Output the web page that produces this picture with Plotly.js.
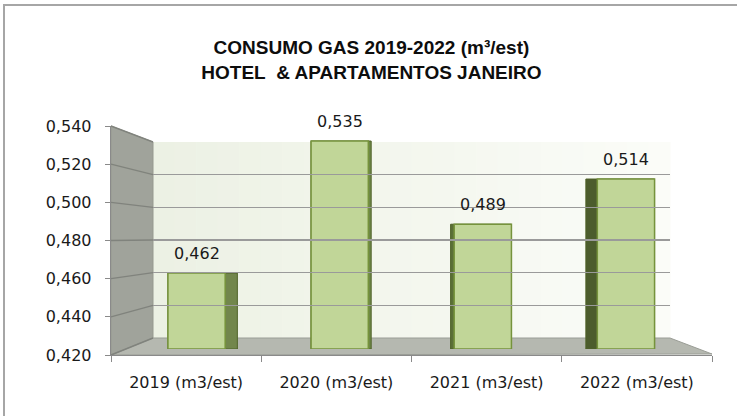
<!DOCTYPE html>
<html>
<head>
<meta charset="utf-8">
<script src="https://cdn.plot.ly/plotly-3.0.1.min.js"></script>
<style>html,body{margin:0;padding:0;background:#fff;}#chart{width:737px;height:416px;}</style>
</head>
<body>
<div id="chart"></div>
<script>
// ---- data ----
const categories = ["2019 (m3/est)", "2020 (m3/est)", "2021 (m3/est)", "2022 (m3/est)"];
const values = [0.462, 0.535, 0.489, 0.514];
const yTicks = [0.42, 0.44, 0.46, 0.48, 0.50, 0.52, 0.54];
const titleLines = ["CONSUMO GAS 2019-2022 (m³/est)", "HOTEL\u00a0 & APARTAMENTOS JANEIRO"];

// ---- layout helpers (pixel -> paper) ----
const W = 737, H = 416;
const px = x => x / W;
const py = y => 1 - y / H;
const yMin = 0.42, yMax = 0.54;
const heights = values.map(v => v - yMin); // bar length above the axis floor

// front axis (labels) and back wall geometry
const front = {x: 111, top: 126, bottom: 355};
const back = {x0: 153, x1: 670, top: 142, bottom: 338};
const fmt = v => v.toFixed(3).replace('.', ',');

const sideColors = ['#72864c', '#6f8748', '#5c7038', '#4c5c2d'];
const sideOffset = [-0.2, -0.2, -0.225, -0.28];
const sideWidth = [0.485, 0.42, 0.425, 0.48];

const traces = [
  { // side faces (3D look)
    type: 'bar', x: categories, y: heights, base: yMin,
    xaxis: 'x', yaxis: 'y',
    offset: sideOffset, width: sideWidth,
    marker: {color: sideColors, line: {color: '#4f6228', width: 1}},
    hoverinfo: 'skip', showlegend: false
  },
  { // front faces
    type: 'bar', x: categories, y: heights, base: yMin,
    xaxis: 'x', yaxis: 'y',
    offset: -0.2, width: 0.4,
    marker: {color: '#c1d698', line: {color: '#76933c', width: 1.5}},
    hoverinfo: 'skip', showlegend: false
  },
  { // carrier for front category / value axes
    type: 'scatter', mode: 'markers', x: categories, y: values,
    xaxis: 'x2', yaxis: 'y2', marker: {opacity: 0}, hoverinfo: 'skip', showlegend: false
  },
  { // carrier for back-wall gridlines
    type: 'scatter', mode: 'markers', x: categories, y: values,
    xaxis: 'x3', yaxis: 'y3', marker: {opacity: 0}, hoverinfo: 'skip', showlegend: false
  }
];

const shapes = [
  // outer chart border
  {type: 'rect', xref: 'paper', yref: 'paper', x0: px(4), x1: px(760), y0: py(5), y1: py(440),
   line: {color: '#a6a6a6', width: 2}, fillcolor: 'rgba(0,0,0,0)', layer: 'below'}
];
// back wall: soft horizontal gradient from pale green to near-white
const nStrips = 24;
const c0 = [236, 241, 228], c1 = [251, 252, 248];
for (let i = 0; i < nStrips; i++) {
  const t = i / (nStrips - 1);
  const c = c0.map((a, k) => Math.round(a + (c1[k] - a) * t));
  const xa = back.x0 + (back.x1 - back.x0) * i / nStrips;
  const xb = back.x0 + (back.x1 - back.x0) * (i + 1) / nStrips + 0.6;
  shapes.push({type: 'rect', xref: 'paper', yref: 'paper', x0: px(xa), x1: px(xb),
    y0: py(back.bottom), y1: py(back.top), line: {width: 0},
    fillcolor: `rgb(${c[0]},${c[1]},${c[2]})`, layer: 'below'});
}
// side wall
shapes.push({type: 'path', xref: 'paper', yref: 'paper',
  path: `M ${px(front.x)} ${py(front.top)} L ${px(back.x0)} ${py(back.top)} L ${px(back.x0)} ${py(back.bottom)} L ${px(front.x)} ${py(front.bottom)} Z`,
  line: {color: '#96998f', width: 1}, fillcolor: '#a0a39b', layer: 'below'});
// floor
shapes.push({type: 'path', xref: 'paper', yref: 'paper',
  path: `M ${px(front.x)} ${py(front.bottom)} L ${px(back.x0)} ${py(back.bottom)} L ${px(back.x1)} ${py(back.bottom)} L ${px(712)} ${py(354)} Z`,
  line: {color: '#9a9d96', width: 1}, fillcolor: '#b5b8b0', layer: 'below'});
// side-wall continuation of the gridlines
yTicks.forEach(v => {
  const t = (v - yMin) / (yMax - yMin);
  const fy = front.bottom - t * (front.bottom - front.top);
  const by = back.bottom - t * (back.bottom - back.top);
  shapes.push({type: 'line', xref: 'paper', yref: 'paper',
    x0: px(front.x), y0: py(fy), x1: px(back.x0), y1: py(by),
    line: {color: '#80837d', width: 1.4}, layer: 'below'});
});

const annotations = categories.map((c, i) => ({
  xref: 'x', yref: 'y', x: c, y: values[i], text: fmt(values[i]),
  showarrow: false, yanchor: 'middle', yshift: 20,
  font: {family: 'DejaVu Sans', size: 16, color: '#1a1a1a'}
}));

const layout = {
  width: W, height: H,
  margin: {l: 0, r: 0, t: 0, b: 0},
  paper_bgcolor: '#ffffff', plot_bgcolor: 'rgba(0,0,0,0)',
  separators: ',.',
  barmode: 'overlay',
  showlegend: false,
  font: {family: 'DejaVu Sans', size: 16, color: '#1a1a1a'},
  title: {
    text: '<b>' + titleLines.join('<br>') + '</b>',
    x: 0.504, xanchor: 'center', y: py(54), yanchor: 'top',
    font: {family: 'Liberation Sans', size: 19, color: '#0d0d0d'}
  },
  xaxis: {domain: [px(125), px(697.5)], anchor: 'y', visible: false,
          type: 'category', range: [-0.5, 3.5], fixedrange: true},
  yaxis: {domain: [py(349), py(132)], anchor: 'x', visible: false,
          range: [yMin, yMax], fixedrange: true},
  xaxis2: {domain: [px(front.x), px(712)], anchor: 'y2', type: 'category',
           range: [-0.5, 3.5], tickson: 'boundaries', ticks: 'outside', ticklen: 6,
           tickcolor: '#8a8a8a', showline: true, linecolor: '#8a8a8a', linewidth: 1.3,
           showgrid: false, zeroline: false, ticklabelstandoff: 12,
           tickfont: {family: 'DejaVu Sans', size: 16, color: '#1a1a1a'}},
  yaxis2: {domain: [py(front.bottom), py(front.top)], anchor: 'x2', range: [yMin, yMax],
           tickvals: yTicks, ticktext: yTicks.map(fmt), ticks: 'outside', ticklen: 5,
           tickcolor: '#8a8a8a', showline: true, linecolor: '#8a8a8a', linewidth: 1.3,
           showgrid: false, zeroline: false, ticklabelstandoff: 10,
           tickfont: {family: 'DejaVu Sans', size: 16, color: '#1a1a1a'}},
  xaxis3: {domain: [px(back.x0), px(back.x1)], anchor: 'y3', type: 'category',
           range: [-0.5, 3.5], showticklabels: false, showgrid: false, zeroline: false,
           showline: false, ticks: ''},
  yaxis3: {domain: [py(back.bottom), py(back.top)], anchor: 'x3', range: [yMin, yMax],
           tickvals: yTicks, showticklabels: false, showgrid: true, gridcolor: '#9a9a9a',
           gridwidth: 1.5, zeroline: false, showline: false, ticks: ''},
  shapes: shapes,
  annotations: annotations
};

Plotly.newPlot('chart', traces, layout, {staticPlot: true, displayModeBar: false});
</script>
</body>
</html>
